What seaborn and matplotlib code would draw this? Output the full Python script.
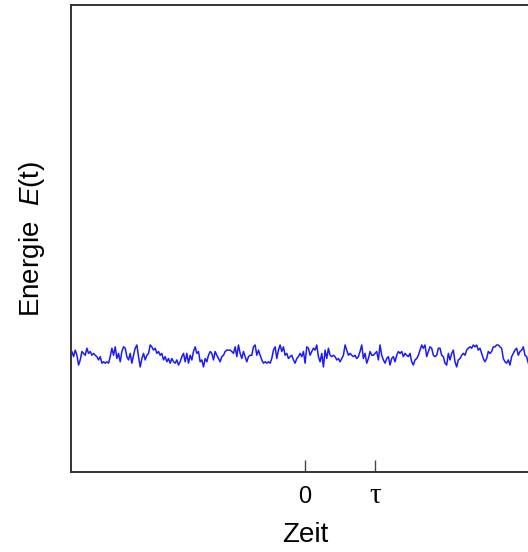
import numpy as np
import pandas as pd
import matplotlib
matplotlib.use("Agg")
import matplotlib.pyplot as plt
import seaborn as sns

# Energy trace E(t), sampled uniformly in time (units of tau)
energy = [
    # first segment
    25.8, 24.7, 26.1, 25.0, 22.9, 24.0, 25.8, 25.4, 25.0, 26.5, 25.4, 25.8, 25.0, 25.4, 25.0, 24.7,
    24.0, 24.7, 23.3, 23.6, 23.3, 23.6, 23.3, 24.7, 26.5, 25.0, 26.8, 24.3, 25.4, 23.6, 25.8, 26.8,
    26.5, 24.7, 24.0, 25.4, 23.3, 25.0, 26.5, 27.2, 24.7, 22.5, 24.3, 25.4, 24.0, 25.0, 25.4, 27.2,
    26.8, 26.1, 26.5, 25.4, 25.8, 25.0, 25.4, 24.0, 24.7, 23.6, 24.3, 23.3, 24.3, 23.6, 23.3, 24.0,
    22.9, 23.6,
    # second segment
    24.7, 25.4, 23.6, 25.4, 23.3, 25.0, 24.0, 25.8, 26.8, 25.4, 25.8, 23.6, 24.0, 22.5, 24.3, 23.6,
    25.0, 25.8, 25.4, 24.0, 25.8, 25.0, 24.3, 23.6, 24.7, 25.0, 25.8, 26.1, 26.1, 26.1, 25.8, 25.4,
    26.8, 24.7, 27.2, 25.4, 24.3, 25.8, 24.7, 23.6, 24.7, 25.0, 25.0, 26.8, 27.2, 25.0, 26.1, 25.0,
    24.0, 23.3, 23.6, 23.3, 23.6, 23.3, 24.3, 26.1, 26.8, 24.3, 26.1, 27.2, 25.8, 26.8, 25.0, 25.4,
    24.3, 24.7,
    # third segment
    25.0, 24.0, 23.3, 24.3, 24.7, 25.4, 24.7, 25.8, 23.3, 26.8, 26.5, 25.0, 25.8, 26.5, 26.1, 27.2,
    24.7, 23.6, 25.4, 22.5, 26.1, 24.3, 26.5, 25.0, 24.7, 25.0, 24.7, 24.0, 24.3, 23.6, 24.3, 25.0,
    27.2, 26.1, 25.0, 25.4, 25.0, 24.7, 25.0, 24.3, 24.7, 25.8, 27.2, 24.3, 25.4, 23.3, 24.3, 25.8,
    25.0, 25.0, 25.4, 25.8, 24.0, 27.2, 25.0, 24.0, 23.3, 24.3, 24.7, 22.9, 24.3, 24.7, 23.6, 25.0,
    25.8, 25.4, 25.8, 24.7, 25.4,
    # fourth segment
    25.0, 24.7, 25.4, 23.6, 22.9, 24.0, 24.3, 25.0, 26.1, 27.2, 26.5, 27.2, 24.7, 25.8, 26.8, 26.5,
    25.0, 24.7, 25.0, 26.5, 26.5, 25.0, 24.7, 23.3, 22.9, 25.4, 24.0, 25.4, 26.1, 23.6, 22.5, 24.0,
    24.3, 25.0, 25.4, 25.0, 26.1, 26.5, 26.8, 26.5, 27.2, 26.8, 27.2, 26.1, 26.5, 25.4, 24.3, 23.6,
    24.3, 25.8, 25.4, 25.8, 26.8, 26.8, 27.2, 27.2, 26.8, 26.5, 24.3, 23.6, 23.3, 24.0, 22.9, 24.7,
    25.4, 26.1, 26.5, 25.0, 25.8, 26.1, 26.8, 25.0, 24.7, 23.3,
]
t_start, t_end = -3.33, 3.19
time = np.linspace(t_start, t_end, len(energy))

tick_positions = [0, 1]
tick_labels = ["0", "\u03c4"]

sns.set_theme(style="white")
plt.rcParams["font.family"] = ["Liberation Sans", "DejaVu Sans"]
plt.rcParams["mathtext.fontset"] = "custom"
plt.rcParams["mathtext.rm"] = "Liberation Sans"
plt.rcParams["mathtext.it"] = "Liberation Sans:italic"
plt.rcParams["text.color"] = "black"
plt.rcParams["axes.labelcolor"] = "black"

df = pd.DataFrame({"Zeit": time, "E": energy})

fig = plt.figure(figsize=(5.28, 5.52), dpi=100)
ax = fig.add_axes([71 / 528, 80 / 552, 468 / 528, 467 / 552])

sns.lineplot(data=df, x="Zeit", y="E", ax=ax, color="#1a1aff", linewidth=1.1)

ax.set_xlim(-3.343, 3.343)
ax.set_ylim(0, 100)
ax.set_yticks([])
ax.set_xticks(tick_positions)
ax.tick_params(axis="x", direction="in", length=9, width=1.0, color="#444444",
               pad=22.5, labelcolor="black", labelsize=17, bottom=True)
ax.set_xticklabels(tick_labels, fontsize=17)
zero_label, tau_label = ax.get_xticklabels()
for lab in (zero_label, tau_label):
    lab.set_verticalalignment("baseline")
zero_label.set_fontfamily("Liberation Sans")
zero_label.set_fontsize(17)
tau_label.set_fontfamily("Liberation Serif")
tau_label.set_fontsize(21)

for side, sp in ax.spines.items():
    sp.set_color("#333333")
    sp.set_linewidth(1.4)

ax.set_xlabel("Zeit", fontsize=20)
ax.xaxis.set_label_coords(0.5, -0.106)
ax.set_ylabel(r"Energie  $E$(t)", fontsize=20, labelpad=17)

fig.savefig("out.png", dpi=100)
